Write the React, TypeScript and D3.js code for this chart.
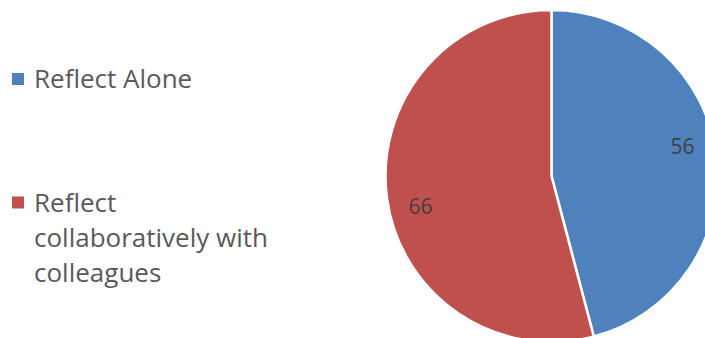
import React from "react";
import * as d3 from "d3";

const categories = ["Reflect Alone", "Reflect collaboratively with colleagues"];
const values = [56, 66];
const colors = ["#4F81BD", "#C0504D"];
const legendLines = [["Reflect Alone"], ["Reflect", "collaboratively with", "colleagues"]];

const W = 705;
const H = 338;

export default function App() {
  const cx = 551.5;
  const cy = 176;
  const r = 166;
  const pie = d3.pie<number>().sort(null).value((d) => d);
  const arcs = pie(values);
  const arc = d3.arc<d3.PieArcDatum<number>>().innerRadius(0).outerRadius(r);
  const labelR = r * 0.81;
  const labelShift = (-5.5 * Math.PI) / 180;
  const legendY = [79, 202.5];
  return (
    <svg
      width={W}
      height={H}
      style={{ position: "absolute", left: 0, top: 0, background: "#fff" }}
      fontFamily="'Open Sans', sans-serif"
    >
      <g transform={`translate(${cx},${cy})`}>
        {arcs.map((a, i) => (
          <path key={i} d={arc(a) || ""} fill={colors[i]} stroke="#fff" strokeWidth={2.5} strokeLinejoin="round" />
        ))}
        {arcs.map((a, i) => {
          const mid = (a.startAngle + a.endAngle) / 2 + labelShift;
          const x = labelR * Math.sin(mid);
          const y = -labelR * Math.cos(mid);
          return (
            <text key={i} x={x} y={y} textAnchor="middle" dominantBaseline="central" fontSize={21} fill="#404040">
              {values[i]}
            </text>
          );
        })}
      </g>
      {categories.map((c, i) => (
        <g key={c}>
          <rect x={12} y={legendY[i] - 6} width={12} height={12} fill={colors[i]} />
          <text fontSize={26} fill="#595959">
            {legendLines[i].map((ln, j) => (
              <tspan key={j} x={34} y={legendY[i] + 9 + j * 35}>
                {ln}
              </tspan>
            ))}
          </text>
        </g>
      ))}
    </svg>
  );
}
